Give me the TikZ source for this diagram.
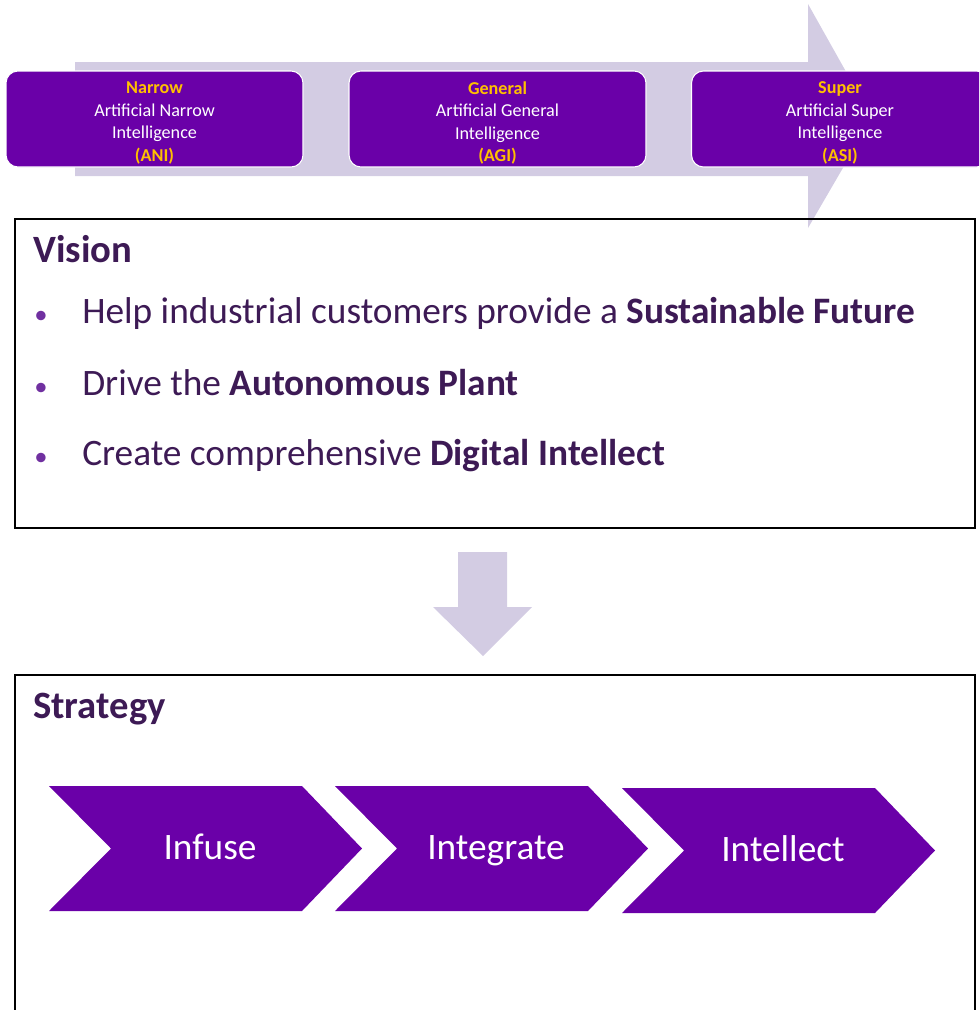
\documentclass[tikz,border=0pt]{standalone}
\usepackage{fontspec}
\setmainfont{Carlito}
\usepackage{tikz}
\usetikzlibrary{calc,arrows.meta}
\definecolor{aipurple}{HTML}{6A00A8}
\definecolor{ailight}{HTML}{D3CCE3}
\definecolor{aiorange}{HTML}{FFC000}
\definecolor{aitext}{HTML}{3D1A55}
\definecolor{aibullet}{HTML}{7030A0}

\begin{document}
\begin{tikzpicture}[x=0.75pt,y=-0.75pt,
	stage/.style={draw=white,line width=0.8pt,fill=aipurple,rounded corners=9pt,
		minimum width=223pt,minimum height=72pt,align=center,text=white,
		font=\fontsize{13.6}{16.8}\selectfont},
	frame/.style={draw=black,line width=1.5pt},
	headline/.style={anchor=base west,inner sep=0pt,text=aitext,font=\fontsize{29}{32}\selectfont\bfseries},
	item/.style={anchor=base west,inner sep=0pt,text=aitext,font=\fontsize{28}{32}\selectfont},
	dot/.style={anchor=base west,inner sep=0pt,text=aibullet,font=\fontsize{20}{30}\selectfont},
	steptext/.style={anchor=base,text=white,font=\fontsize{28}{32}\selectfont}]
				\useasboundingbox (0,0) rectangle (979,1010);
				\clip (0,0) rectangle (979,1010);
				%% big light arrow behind the three stages
				\fill [ailight] (75,62)--(808,62)--(808,4)--(872,118)--(808,228)--(808,176)--(75,176)--cycle;
				\foreach \cx/\nm/\lvl/\word/\abbr in {154.5/ani/Narrow/Narrow/ANI, 497.5/agi/General/General/AGI, 840/asi/Super/Super/ASI}{
					\draw [stage] (\cx-148.5,71) rectangle (\cx+148.5,167);
					\node [align=center,text=white,font=\fontsize{13.6}{16.8}\selectfont] (\nm) at (\cx, 123){\textcolor{aiorange}{\bfseries \lvl}\\Artificial \word\\Intelligence\\\textcolor{aiorange}{\bfseries(\abbr)}};
					}

				%% vision box
				\draw [frame] (15,219) rectangle (975,528);
				\node [headline] (vtitle) at (33,262){Vision};
				\node [dot] (b1) at (34,323){•};
				\node [item] (v1) at (82,323){Help industrial customers provide a \textbf{Sustainable Future}};
				\node [dot] (b2) at (34,395){•};
				\node [item] (v2) at (82,395){Drive the \textbf{Autonomous Plant}};
				\node [dot] (b3) at (34,465){•};
				\node [item] (v3) at (82,465){Create comprehensive \textbf{Digital Intellect}};

				%% down arrow
				\fill [ailight] (458,552)--(507,552)--(507,607)--(532,607)--(483,656)--(433,607)--(458,607)--cycle;

				%% strategy box, open at the bottom
				\draw [frame] (15,1015)--(15,675)--(975,675)--(975,1015);
				\node [headline] (stitle) at (33,718){Strategy};
				\foreach \xl/\yt/\nm/\lbl in {49/786/infuse/Infuse, 335/786/integrate/Integrate, 622/788/intellect/Intellect}{
					\fill [aipurple] (\xl,\yt)--++(253,0)--++(60,62.5)--++(-60,62.5)--++(-253,0)--++(62,-62.5)--cycle;
					\node [steptext] (\nm) at (\xl+161,\yt+73){\lbl};
					}
				\end{tikzpicture}
\end{document}
